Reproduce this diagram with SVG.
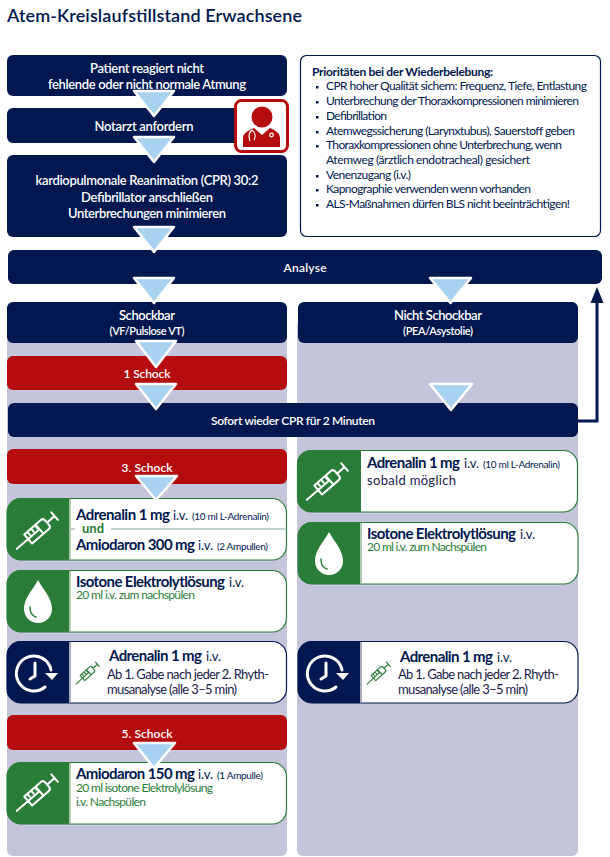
<svg xmlns="http://www.w3.org/2000/svg" width="610" height="857" viewBox="0 0 610 857">
<style>
text{font-family:"Lato","Open Sans","Liberation Sans",sans-serif;fill:#00174f}
.w{fill:#fff;font-weight:600;font-size:13px;text-anchor:middle}
.m{font-size:12px}
.sm{font-size:11px}
.n{fill:#00174f}.r{fill:#b50d0d}
.g{fill:#2a7d38}
.c{fill:#fff;stroke:#2a7d38;stroke-width:1.2}
.cn{fill:#fff;stroke:#00174f;stroke-width:1.2}
.b{font-weight:700;font-size:15px}
.i{font-size:13px}.s{font-size:10px}
.t{font-size:12px}
.gt{font-size:12px;fill:#2a7d38}
.l{font-size:13px;fill:#1a1a4a}
.tri{fill:#a8d2ef;stroke:#fff;stroke-width:2.5;stroke-linejoin:round}
.ic{fill:none;stroke:#fff;stroke-width:2;stroke-linecap:round;stroke-linejoin:round}
.ics{fill:none;stroke:#2a7d38;stroke-width:2;stroke-linecap:round;stroke-linejoin:round}
</style>
<defs>
<g id="syr"><path d="M-28 0H-13M-13-6H9a3 3 0 0 1 3 3V3a3 3 0 0 1-3 3H-13ZM12 0H22M22-5V5M-9-6V-2M-4-6V-2M1-6V-2M2-6V6M-13 0H2"/></g>
<g id="drop"><path d="M0-22C6-11 14-4 14 7A14 14 0 0 1-14 7C-14-4-6-11 0-22Z" fill="#fff"/><path d="M-8 5C-8 11-6 14-2 15" fill="none" stroke="#2a7d38" stroke-width="1.500" stroke-linecap="round"/></g>
<g id="clock"><path d="M15-2A17.500 17.500 0 1 0 9 15" fill="none" stroke="#fff" stroke-width="3" stroke-linecap="round"/><path d="M-6 7L-1 4V-9" fill="none" stroke="#fff" stroke-width="3" stroke-linecap="round" stroke-linejoin="round"/><path d="M9 1H22L16 8Z" fill="#fff"/></g>
</defs>

<text x="7" y="22" font-size="18" font-weight="600" textLength="295" id="title">Atem-Kreislaufstillstand Erwachsene</text>

<g id="bg"><rect x="7" y="320" width="280" height="536" rx="6" fill="#c4c4da"/><rect x="297" y="320" width="281" height="536" rx="6" fill="#c4c4da"/></g>

<g id="patient"><rect class="n" x="7" y="55" width="280" height="41" rx="6"/><text class="w" x="147" y="73" textLength="114">Patient reagiert nicht</text><text class="w" x="147" y="89" textLength="198">fehlende oder nicht normale Atmung</text></g>
<g id="notarzt"><rect class="n" x="7" y="108" width="240" height="35" rx="6"/><text class="w" x="144" y="131" textLength="99">Notarzt anfordern</text></g>
<g id="doctor"><rect x="235.500" y="100.500" width="52" height="51" rx="6" fill="#fff" stroke="#b50d0d" stroke-width="3"/><circle cx="262" cy="117" r="10.500" fill="#b50d0d"/><path d="M243 147V138C243 133 249 130 254 128L262 135L270 128C275 130 280 133 280 138V147Z" fill="#b50d0d"/><path d="M252 130C248 133 249 138 250 141M254 140C256 136 255 132 252 130" fill="none" stroke="#fff" stroke-width="1.200"/><circle cx="271.500" cy="135" r="1.800" fill="none" stroke="#fff" stroke-width="1.200"/></g>
<g id="cpr"><rect class="n" x="7" y="155" width="280" height="82" rx="6"/><text class="w" x="147" y="185" textLength="223">kardiopulmonale Reanimation (CPR) 30:2</text><text class="w" x="147" y="202" textLength="132">Defibrillator anschließen</text><text class="w" x="147" y="218" textLength="158">Unterbrechungen minimieren</text></g>
<g id="prio"><rect x="300.500" y="55.500" width="300" height="181" rx="6" fill="#fff" stroke="#00174f" stroke-width="1.200"/>
<text x="312" y="76" class="t" font-weight="700" textLength="181">Prioritäten bei der Wiederbelebung:</text>
<g fill="#00174f"><rect x="316" y="86" width="2.500" height="2.500"/><rect x="316" y="101" width="2.500" height="2.500"/><rect x="316" y="116" width="2.500" height="2.500"/><rect x="316" y="131" width="2.500" height="2.500"/><rect x="316" y="145" width="2.500" height="2.500"/><rect x="316" y="175" width="2.500" height="2.500"/><rect x="316" y="189" width="2.500" height="2.500"/><rect x="316" y="204" width="2.500" height="2.500"/></g>
<text class="t" x="326" y="90" textLength="261">CPR hoher Qualität sichern: Frequenz, Tiefe, Entlastung</text>
<text class="t" x="326" y="105" textLength="253">Unterbrechung der Thoraxkompressionen minimieren</text>
<text class="t" x="326" y="120" textLength="61">Defibrillation</text>
<text class="t" x="326" y="135" textLength="249">Atemwegssicherung (Larynxtubus), Sauerstoff geben</text>
<text class="t" x="326" y="149" textLength="236">Thoraxkompressionen ohne Unterbrechung, wenn</text>
<text class="t" x="326" y="164" textLength="204">Atemweg  (ärztlich endotracheal) gesichert</text>
<text class="t" x="326" y="179" textLength="85">Venenzugang (i.v.)</text>
<text class="t" x="326" y="193" textLength="205">Kapnographie verwenden wenn vorhanden</text>
<text class="t" x="326" y="208" textLength="244">ALS-Maßnahmen dürfen BLS nicht beeinträchtigen!</text></g>
<g id="analyse"><rect class="n" x="8" y="250" width="594" height="34" rx="6"/><text class="w m" x="305" y="272" textLength="43">Analyse</text></g>
<g id="schockbar"><rect class="n" x="7" y="302" width="280" height="41" rx="6"/><text class="w" x="147" y="320" textLength="56">Schockbar</text><text class="w sm" x="147" y="335" textLength="75">(VF/Pulslose VT)</text></g>
<g id="nichtschockbar"><rect class="n" x="298" y="302" width="280" height="41" rx="6"/><text class="w" x="438" y="320" textLength="88">Nicht Schockbar</text><text class="w sm" x="438" y="335" textLength="70">(PEA/Asystolie)</text></g>
<g id="schock1"><rect class="r" x="7" y="356" width="280" height="34" rx="6"/><text class="w m" x="147" y="378" textLength="47">1 Schock</text></g>
<g id="sofort"><rect class="n" x="8" y="403" width="570" height="34" rx="6"/><text class="w m" x="293" y="425" textLength="164">Sofort wieder CPR für 2 Minuten</text></g>
<g id="schock3"><rect class="r" x="7" y="449" width="280" height="35" rx="6"/><text class="w m" x="147" y="472" textLength="51">3. Schock</text></g>

<g id="card-adr-amio"><rect class="c" x="7" y="498.500" width="279.500" height="61.500" rx="14"/><path class="g" d="M69 498H21a14 14 0 0 0-14 14v34a14 14 0 0 0 14 14H69Z"/><path d="M70 499V559" stroke="#8fb896" stroke-width="1.500"/>
<use class="ic" href="#syr" transform="translate(38 530.500) rotate(-41)"/>
<text class="b" x="76" y="520" textLength="94">Adrenalin 1 mg</text><text class="i" x="173" y="520">i.v.</text><text class="s" x="192" y="520" textLength="77">(10 ml L-Adrenalin)</text>
<path d="M71 529H75M111 529H287" stroke="#7fa888" stroke-width="1"/><text x="82" y="533" font-size="13" font-weight="700" style="fill:#2a7d38">und</text>
<text class="b" x="76" y="550" textLength="119">Amiodaron 300 mg</text><text class="i" x="198" y="550">i.v.</text><text class="s" x="217" y="550" textLength="51">(2 Ampullen)</text></g>

<g id="card-iso-l"><rect class="c" x="7" y="570.500" width="279.500" height="61.500" rx="14"/><path class="g" d="M69 570H21a14 14 0 0 0-14 14v34a14 14 0 0 0 14 14H69Z"/><path d="M70 571V631" stroke="#8fb896" stroke-width="1.500"/><use href="#drop" transform="translate(38 602)"/>
<text class="b" x="76" y="587" textLength="149">Isotone Elektrolytlösung</text><text class="i" x="229" y="587">i.v.</text><text class="gt" x="76" y="599" textLength="119">20 ml i.v. zum nachspülen</text></g>

<g id="card-adr-l"><rect class="cn" x="7" y="641.500" width="279.500" height="61.500" rx="14"/><path class="n" d="M69 641H21a14 14 0 0 0-14 14v34a14 14 0 0 0 14 14H69Z"/><path d="M70 642V702" stroke="#8a8fa8" stroke-width="1.500"/><use href="#clock" transform="translate(36 672)"/>
<use class="ics" href="#syr" transform="translate(88 673) rotate(-43) scale(.58)"/>
<text class="b" x="109" y="661" textLength="93">Adrenalin 1 mg</text><text class="i" x="206" y="661">i.v.</text><text class="l" x="107" y="679" textLength="162">Ab 1. Gabe nach jeder 2. Rhyth-</text><text class="l" x="107" y="694" textLength="130">musanalyse (alle 3–5 min)</text></g>

<g id="schock5"><rect class="r" x="7" y="715" width="280" height="35" rx="6"/><text class="w m" x="147" y="738" textLength="51">5. Schock</text></g>

<g id="card-amio150"><rect class="c" x="7" y="762.500" width="279.500" height="61.500" rx="14"/><path class="g" d="M69 762H21a14 14 0 0 0-14 14v34a14 14 0 0 0 14 14H69Z"/><path d="M70 763V823" stroke="#8fb896" stroke-width="1.500"/>
<use class="ic" href="#syr" transform="translate(38 792.500) rotate(-41)"/>
<text class="b" x="76" y="779" textLength="119">Amiodaron 150 mg</text><text class="i" x="198" y="779">i.v.</text><text class="s" x="217" y="779" textLength="46">(1 Ampulle)</text><text class="gt" x="76" y="792" textLength="137">20 ml isotone Elektrolylösung</text><text class="gt" x="76" y="806" textLength="70">i.v. Nachspülen</text></g>

<g id="card-adr-r"><rect class="c" x="297.500" y="450.500" width="280" height="61.500" rx="14"/><path class="g" d="M361 450H311a14 14 0 0 0-14 14v34a14 14 0 0 0 14 14H361Z"/>
<use class="ic" href="#syr" transform="translate(328 481.500) rotate(-41)"/>
<text class="b" x="367" y="468" textLength="93">Adrenalin 1 mg</text><text class="i" x="464" y="468">i.v.</text><text class="s" x="483" y="468" textLength="77">(10 ml L-Adrenalin)</text><text class="l" x="367" y="485" textLength="89">sobald möglich</text></g>

<g id="card-iso-r"><rect class="c" x="298" y="522.500" width="280" height="61.500" rx="14"/><path class="g" d="M360 522H312a14 14 0 0 0-14 14v34a14 14 0 0 0 14 14H360Z"/><path d="M361 523V583" stroke="#8fb896" stroke-width="1.500"/><use href="#drop" transform="translate(329 554)"/>
<text class="b" x="367" y="539" textLength="149">Isotone Elektrolytlösung</text><text class="i" x="520" y="539">i.v.</text><text class="gt" x="367" y="551" textLength="120">20 ml i.v. zum Nachspülen</text></g>

<g id="card-adr-r2"><rect class="cn" x="298" y="641.500" width="280" height="61.500" rx="14"/><path class="n" d="M360 641H312a14 14 0 0 0-14 14v34a14 14 0 0 0 14 14H360Z"/><path d="M361 642V702" stroke="#8a8fa8" stroke-width="1.500"/><use href="#clock" transform="translate(327 672)"/>
<use class="ics" href="#syr" transform="translate(379 673) rotate(-43) scale(.58)"/>
<text class="b" x="400" y="662" textLength="93">Adrenalin 1 mg</text><text class="i" x="497" y="662">i.v.</text><text class="l" x="398" y="679" textLength="161">Ab 1. Gabe nach jeder 2. Rhyth-</text><text class="l" x="398" y="694" textLength="130">musanalyse (alle 3–5 min)</text></g>

<g id="connectors">
<path d="M578 421H597V300" fill="none" stroke="#00174f" stroke-width="3"/><path d="M597 287L603.500 303H590.500Z" fill="#00174f"/>
<path class="tri" d="M134 91H174L154 116Z"/>
<path class="tri" d="M134 137H174L154 162Z"/>
<path class="tri" d="M134 227H174L154 252Z"/>
<path class="tri" d="M134 278H174L154 303Z"/>
<path class="tri" d="M136 341H176L156 367Z"/>
<path class="tri" d="M136 384H176L156 409Z"/>
<path class="tri" d="M430 278H471L450.500 303Z"/>
<path class="tri" d="M430 384H472L451 410Z"/>
<path class="tri" d="M136 476H177L156 500Z"/>
<path class="tri" d="M134 743H175L154 768Z"/>
</g>
</svg>
